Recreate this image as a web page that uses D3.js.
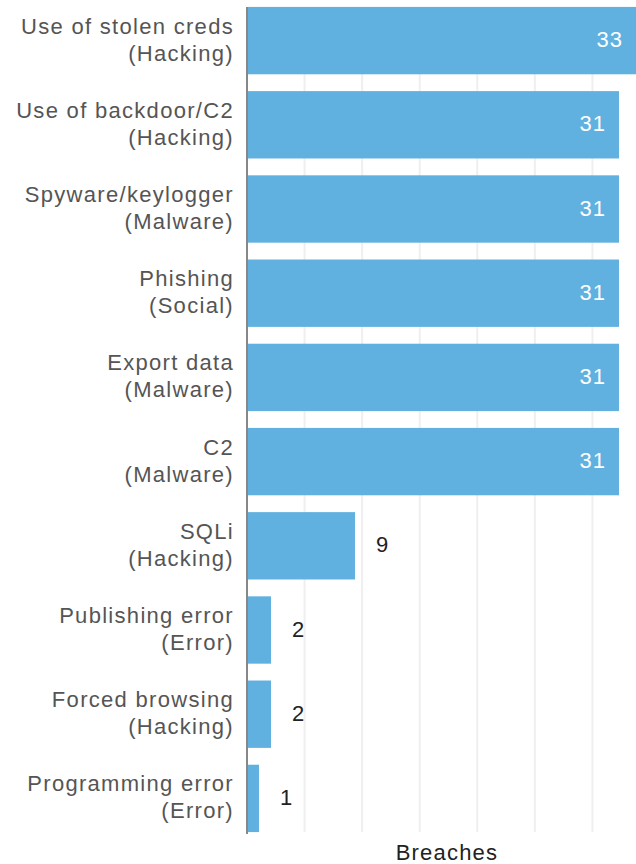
<!DOCTYPE html>
<html>
<head>
<meta charset="utf-8">
<script src="https://cdn.jsdelivr.net/npm/d3@7"></script>
<style>
  body { margin: 0; background: #fff; }
  text { font-family: "Liberation Sans", Arial, sans-serif; }
</style>
</head>
<body>
<div id="chart"></div>
<script>
// Data
var actions = ["Use of stolen creds", "Use of backdoor/C2", "Spyware/keylogger", "Phishing",
               "Export data", "C2", "SQLi", "Publishing error", "Forced browsing", "Programming error"];
var varieties = ["Hacking", "Hacking", "Malware", "Social", "Malware", "Malware",
                 "Hacking", "Error", "Hacking", "Error"];
var breaches = [33, 31, 31, 31, 31, 31, 9, 2, 2, 1];

var width = 636, height = 864;
var axisX = 247;

var svg = d3.select("#chart").append("svg")
    .attr("width", width)
    .attr("height", height);

var xScale = d3.scaleLinear()
    .domain([0, 33])
    .range([axisX, axisX + 396]);

var yScale = d3.scaleBand()
    .domain(actions)
    .range([-1.5, 840.5])
    .paddingInner(0.2)
    .paddingOuter(0.1);

// light vertical grid
var gridScale = d3.scaleLinear().domain([0, 7]).range([axisX, axisX + 403]);
svg.append("g")
    .selectAll("line")
    .data(gridScale.ticks(7).slice(1))
    .join("line")
    .attr("x1", function(d) { return gridScale(d); })
    .attr("x2", function(d) { return gridScale(d); })
    .attr("y1", 7)
    .attr("y2", 832)
    .attr("stroke", "#efefef")
    .attr("stroke-width", 2);

// bars
svg.append("g")
    .selectAll("rect")
    .data(breaches)
    .join("rect")
    .attr("x", xScale(0) + 1)
    .attr("y", function(d, i) { return yScale(actions[i]); })
    .attr("width", function(d) { return xScale(d) - xScale(0) - 1; })
    .attr("height", yScale.bandwidth())
    .attr("fill", "#61b1e0");

// value labels
svg.append("g")
    .selectAll("text")
    .data(breaches)
    .join("text")
    .attr("x", function(d) {
        return d > 20 ? Math.min(xScale(d), width) - 13 : xScale(d) + 21;
    })
    .attr("y", function(d, i) { return yScale(actions[i]) + yScale.bandwidth() / 2; })
    .attr("dy", "0.3em")
    .attr("text-anchor", function(d) { return d > 20 ? "end" : "start"; })
    .attr("fill", function(d) { return d > 20 ? "#fff" : "#222"; })
    .style("font-size", "22px")
    .style("letter-spacing", "1px")
    .text(function(d) { return d; });

// y axis line
svg.append("line")
    .attr("x1", axisX).attr("x2", axisX)
    .attr("y1", 7).attr("y2", 834)
    .attr("stroke", "#888")
    .attr("stroke-width", 2);

// category labels (two lines)
var labels = svg.append("g")
    .selectAll("text")
    .data(actions)
    .join("text")
    .attr("text-anchor", "end")
    .attr("fill", "#555")
    .style("font-size", "22px")
    .style("letter-spacing", "1.3px")
    .attr("transform", function(d) {
        return "translate(234," + (yScale(d) + yScale.bandwidth() / 2) + ")";
    });

labels.append("tspan")
    .attr("x", 0)
    .attr("dy", "-0.32em")
    .text(function(d) { return d; });

labels.append("tspan")
    .attr("x", 0)
    .attr("dy", "1.23em")
    .text(function(d, i) { return "(" + varieties[i] + ")"; });

// x axis title
svg.append("text")
    .attr("x", 447)
    .attr("y", 860)
    .attr("text-anchor", "middle")
    .attr("fill", "#222")
    .style("font-size", "22px")
    .style("letter-spacing", "1.2px")
    .text("Breaches");
</script>
</body>
</html>
